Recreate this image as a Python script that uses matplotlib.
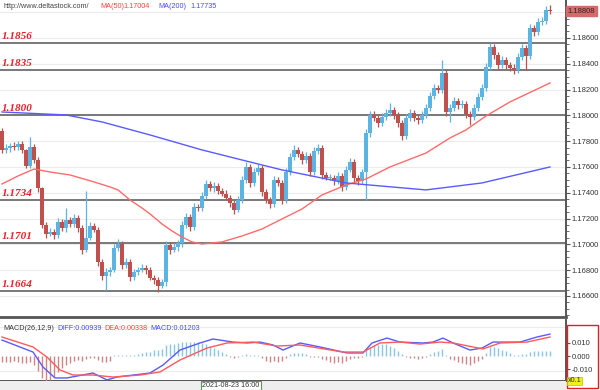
import numpy as np
import matplotlib
matplotlib.use("Agg")
import matplotlib.pyplot as plt
from matplotlib.patches import Rectangle

plt.rcParams["font.family"] = ["Liberation Sans", "DejaVu Sans"]

# ---- data (EUR/USD, hourly) ----
first_open = 1.17879
closes = [
    1.17732, 1.17747, 1.17763, 1.17755, 1.17778, 1.17732, 1.17608, 1.17755, 1.17654, 1.17437,
    1.17150, 1.17081, 1.17096, 1.17073, 1.17174, 1.17127, 1.17189, 1.17158, 1.17205, 1.17127,
    1.16957, 1.17050, 1.17143, 1.17112, 1.16864, 1.16755, 1.16786, 1.16802, 1.16972, 1.17003,
    1.16840, 1.16864, 1.16747, 1.16786, 1.16802, 1.16817, 1.16802, 1.16740, 1.16724, 1.16678,
    1.16709, 1.16995, 1.16957, 1.16980, 1.17011, 1.17150, 1.17212, 1.17135, 1.17290, 1.17282,
    1.17375, 1.17468, 1.17437, 1.17453, 1.17414, 1.17391, 1.17360, 1.17321, 1.17267, 1.17344,
    1.17499, 1.17600, 1.17476, 1.17561, 1.17592, 1.17406, 1.17344, 1.17313, 1.17499, 1.17476,
    1.17344, 1.17561, 1.17677, 1.17732, 1.17701, 1.17654, 1.17685, 1.17561, 1.17724, 1.17747,
    1.17538, 1.17515, 1.17518, 1.17491, 1.17530, 1.17445, 1.17577, 1.17639, 1.17515, 1.17491,
    1.17561, 1.17863, 1.18003, 1.17980, 1.17941, 1.17987, 1.18018, 1.18042, 1.18003, 1.17941,
    1.17840, 1.17980, 1.18018, 1.17980, 1.17964, 1.18003, 1.18057, 1.18150, 1.18212, 1.18197,
    1.18328, 1.18026, 1.18057, 1.18111, 1.18080, 1.18088, 1.18011, 1.17987, 1.18057, 1.18142,
    1.18212, 1.18375, 1.18530, 1.18468, 1.18390, 1.18429, 1.18390, 1.18367, 1.18352, 1.18452,
    1.18522, 1.18460, 1.18677, 1.18646, 1.18724, 1.18731, 1.18815, 1.18808,
]
# wick sizes in pips above / below the body
upper_wick = [
    2, 3, 2, 3, 2, 2, 1, 8, 2, 2, 1, 2, 3, 2, 3, 2, 9, 2, 3, 2,
    2, 36, 3, 2, 2, 2, 3, 2, 3, 4, 2, 3, 2, 2, 2, 3, 2, 2, 2, 2,
    2, 3, 2, 3, 2, 3, 3, 2, 3, 2, 3, 3, 2, 3, 2, 2, 3, 2, 2, 3,
    3, 4, 2, 3, 3, 2, 2, 2, 3, 2, 2, 3, 3, 4, 2, 2, 3, 2, 3, 3,
    2, 2, 3, 2, 3, 2, 3, 3, 2, 2, 2, 3, 3, 3, 2, 3, 3, 5, 2, 2,
    2, 3, 3, 2, 2, 3, 3, 3, 3, 2, 10, 2, 3, 3, 2, 3, 2, 2, 3, 3,
    3, 3, 3, 2, 2, 3, 2, 2, 3, 3, 3, 2, 3, 2, 3, 3, 3, 4,
]
lower_wick = [
    2, 2, 3, 2, 2, 2, 2, 2, 2, 3, 2, 3, 2, 3, 2, 2, 3, 2, 2, 3,
    3, 2, 2, 2, 3, 3, 11, 3, 2, 2, 3, 2, 3, 2, 2, 2, 3, 2, 3, 5,
    2, 3, 3, 2, 3, 3, 2, 3, 2, 2, 2, 2, 2, 3, 2, 2, 2, 3, 3, 2,
    2, 2, 3, 2, 2, 3, 2, 3, 2, 2, 3, 2, 2, 2, 2, 3, 2, 3, 2, 2,
    3, 2, 2, 3, 2, 3, 2, 2, 3, 3, 2, 22, 3, 2, 3, 2, 2, 2, 3, 3,
    3, 2, 2, 2, 3, 2, 2, 2, 2, 2, 2, 3, 8, 2, 3, 2, 3, 6, 2, 2,
    2, 2, 2, 3, 3, 2, 3, 2, 3, 2, 2, 11, 2, 3, 2, 2, 2, 2,
]

# moving averages (bar index, value)
ma50_idx = [0, 4, 8, 12, 17, 23, 27, 29, 32, 35, 37, 40, 42.5, 45, 47.5, 50, 55, 60, 65, 70, 75, 80,
            86, 91, 97, 106, 112, 116, 121, 127, 137]
ma50_val = [1.17468, 1.17530, 1.17584, 1.17561, 1.17538, 1.17484, 1.17445, 1.17422, 1.17344, 1.17282,
            1.17236, 1.17158, 1.17104, 1.17057, 1.17019, 1.17003, 1.17019, 1.17065, 1.17119, 1.17197,
            1.17274, 1.17383, 1.17460, 1.17507, 1.17600, 1.17708, 1.17825, 1.17887, 1.17995, 1.18104,
            1.18251]
ma200_idx = [0, 16, 25, 37, 50, 60, 70, 86, 106, 120, 137]
ma200_val = [1.18026, 1.18003, 1.17949, 1.17848, 1.17732, 1.17654, 1.17577, 1.17476, 1.17422, 1.17476, 1.17600]

levels = [1.1856, 1.1835, 1.1800, 1.1734, 1.1701, 1.1664]

# MACD panel
macd_hist = [
    -0.0045, -0.0045, -0.0045, -0.0038, -0.0045, -0.0053, -0.0053, -0.0045, -0.0068, -0.0113,
    -0.0165, -0.0188, -0.0180, -0.0158, -0.0120, -0.0090, -0.0068, -0.0053, -0.0038, -0.0030,
    -0.0038, -0.0023, -0.0015, -0.0015, -0.0030, -0.0045, -0.0045, -0.0038, 0.0008, 0.0008,
    0.0004, 0.0008, 0.0004, 0.0008, 0.0015, 0.0023, 0.0030, 0.0030, 0.0045, 0.0045,
    0.0053, 0.0083, 0.0090, 0.0090, 0.0098, 0.0105, 0.0105, 0.0105, 0.0105, 0.0105,
    0.0098, 0.0090, 0.0075, 0.0060, 0.0045, 0.0030, 0.0015, -0.0008, -0.0015, -0.0008,
    0.0008, 0.0015, 0.0008, 0.0008, 0.0004, -0.0015, -0.0038, -0.0045, -0.0038, -0.0045,
    -0.0038, -0.0015, 0.0015, 0.0023, 0.0023, 0.0023, 0.0015, -0.0008, -0.0008, -0.0008,
    -0.0023, -0.0030, -0.0045, -0.0053, -0.0045, -0.0053, -0.0038, -0.0023, -0.0015, -0.0015,
    -0.0008, 0.0045, 0.0068, 0.0083, 0.0083, 0.0090, 0.0090, 0.0075, 0.0060, 0.0038,
    0.0015, -0.0008, -0.0015, -0.0015, -0.0023, -0.0015, -0.0008, 0.0015, 0.0030, 0.0038,
    0.0053, 0.0008, -0.0023, -0.0030, -0.0045, -0.0053, -0.0060, -0.0068, -0.0053, -0.0038,
    -0.0023, 0.0023, 0.0068, 0.0068, 0.0060, 0.0045, 0.0038, 0.0023, 0.0008, 0.0008,
    0.0015, 0.0015, 0.0030, 0.0038, 0.0038, 0.0038, 0.0038, 0.0038,
]
diff_idx = [0, 7.75, 10.25, 13.25, 16.25, 22.75, 26.25, 28.75, 37, 40.25, 44.5, 49.5, 52.75, 57.75,
            61.25, 64.5, 67.75, 70.25, 74.5, 79.5, 86.25, 90.25, 92.5, 96.25, 99.5, 105.25, 107.75,
            110.25, 112.75, 117, 120, 122.75, 126.25, 129.5, 133.75, 137]
diff_val = [0.0120, 0.0030, -0.0083, -0.0165, -0.0165, -0.0128, -0.0180, -0.0158, -0.0128, -0.0068,
            0.0045, 0.0098, 0.0128, 0.0105, 0.0098, 0.0105, 0.0083, 0.0045, 0.0098, 0.0068,
            0.0023, 0.0023, 0.0098, 0.0135, 0.0105, 0.0098, 0.0105, 0.0135, 0.0098, 0.0045,
            0.0060, 0.0105, 0.0105, 0.0105, 0.0143, 0.0165]
dea_idx = [0, 7.75, 11.25, 14.5, 17.75, 22.75, 27.75, 34.5, 39.5, 44.5, 51.25, 56.25, 62.75, 68.75,
           74.5, 85.25, 90.25, 94.5, 99.5, 104.5, 109.5, 112.75, 120.25, 124.5, 131.25, 137]
dea_val = [0.0143, 0.0068, -0.0008, -0.0105, -0.0143, -0.0143, -0.0158, -0.0143, -0.0120, -0.0030,
           0.0060, 0.0098, 0.0105, 0.0075, 0.0083, 0.0030, 0.0030, 0.0098, 0.0105, 0.0090,
           0.0105, 0.0098, 0.0053, 0.0098, 0.0105, 0.0143]

BLUE = "#5bb4e2"
RED = "#c0504d"
W, H = 600, 390
FS = 5.2

fig = plt.figure(figsize=(6, 3.9), dpi=100)
fig.patch.set_facecolor("white")

# ---- main price panel ----
ax = fig.add_axes([0, 1 - 317 / H, 566 / W, 317 / H])
closes_a = np.array(closes)
opens_a = np.array([first_open] + closes[:-1])
x = np.arange(len(closes))
up = closes_a >= opens_a
cols = np.where(up, BLUE, RED)
highs = np.maximum(opens_a, closes_a) + np.array(upper_wick) * 0.0001
lows = np.minimum(opens_a, closes_a) - np.array(lower_wick) * 0.0001

ax.vlines(x, lows, highs, colors=cols, lw=0.9, zorder=3)
body = np.maximum(np.abs(closes_a - opens_a), 0.00005)
ax.bar(x, body, bottom=np.minimum(opens_a, closes_a), width=0.8, color=cols, zorder=4)

ax.plot(ma50_idx, ma50_val, color="#ff6b6b", lw=1.0, zorder=5)
ax.plot(ma200_idx, ma200_val, color="#5a5aff", lw=1.0, zorder=5)

for lv in levels:
    ax.axhline(lv, color="#6e6e6e", lw=1.3, zorder=2)
    ax.annotate(f"{lv:.4f}", xy=(0, lv), xycoords=("axes fraction", "data"),
                xytext=(1.5, 1.5), textcoords="offset points", ha="left", va="bottom",
                color="#e8202a", fontsize=8, fontweight="bold", fontstyle="italic",
                family="Liberation Serif")

ax.set_xlim(-0.5, 141)
ax.set_ylim(1.16437, 1.18894)
major = np.arange(1.166, 1.1870, 0.002)
ax.set_yticks(major)
ax.set_yticklabels([f"{v:.5f}" for v in major])
ax.set_yticks(np.arange(1.1645, 1.1890, 0.0005), minor=True)
ax.yaxis.tick_right()
ax.tick_params(axis="y", which="major", length=3, color="#555555", labelsize=FS + 0.3,
               labelcolor="#333333", pad=1)
ax.tick_params(axis="y", which="minor", length=2, color="#555555")
ax.set_xticks([])
ax.grid(axis="y", which="major", color="#ececec", lw=0.8, zorder=0)
ax.axhline(1.188, color="#ececec", lw=0.8, zorder=0)
for s in ("left", "top"):
    ax.spines[s].set_visible(False)
ax.spines["right"].set_color("#555555")
ax.spines["right"].set_linewidth(1.4)
ax.spines["bottom"].set_color("#555555")
ax.spines["bottom"].set_linewidth(2)

ax.text(1.003, closes[-1], f"{closes[-1]:.5f}", transform=ax.get_yaxis_transform(),
        ha="left", va="center", fontsize=FS + 0.3, color="#3a2020", clip_on=False, zorder=10,
        bbox=dict(boxstyle="square,pad=0.2", facecolor="#d46a6a", edgecolor="#d46a6a"))

# header
fig.text(3 / W, 1 - 6 / H, "http://www.deltastock.com/", fontsize=FS, color="#444444", va="center")
fig.text(100 / W, 1 - 6 / H, "MA(50)", fontsize=FS, color="#ff4040", va="center")
fig.text(123 / W, 1 - 6 / H, "1.17004", fontsize=FS, color="#ff4040", va="center")
fig.text(158 / W, 1 - 6 / H, "MA(200)", fontsize=FS, color="#4a4aff", va="center")
fig.text(190 / W, 1 - 6 / H, "1.17735", fontsize=FS, color="#4a4aff", va="center")

# ---- MACD panel ----
ax2 = fig.add_axes([0, 9 / H, 566 / W, 61 / H])
hist = np.array(macd_hist)
hcols = np.where(hist >= 0, "#88c6e4", "#cf8585")
ax2.vlines(x, 0, hist, colors=hcols, lw=1.0, zorder=3)
ax2.plot(diff_idx, diff_val, color="#5a5aff", lw=1.0, zorder=4)
ax2.plot(dea_idx, dea_val, color="#ff5a5a", lw=1.0, zorder=4)
ax2.set_xlim(-0.5, 141)
ax2.set_ylim(-0.0188, 0.0271)
ax2.axhline(0.0218, color="#ececec", lw=0.8, zorder=0)
ax2.axhline(-0.0113, color="#ececec", lw=0.8, zorder=0)
ax2.set_yticks([0.01, 0.0, -0.01])
ax2.set_yticklabels(["0.010", "0.000", "-0.010"])
ax2.yaxis.tick_right()
ax2.tick_params(axis="y", length=3, color="#555555", labelsize=FS + 0.3, labelcolor="#333333", pad=1)
ax2.set_xticks([])
for s in ("left", "top"):
    ax2.spines[s].set_visible(False)
ax2.spines["right"].set_color("#555555")
ax2.spines["right"].set_linewidth(1.4)
ax2.spines["bottom"].set_color("#555555")
ax2.spines["bottom"].set_linewidth(1.4)

fig.text(3 / W, 1 - 329 / H, "MACD(26,12,9)", fontsize=FS, color="#333333", va="center")
fig.text(57 / W, 1 - 329 / H, "DIFF:0.00939", fontsize=FS, color="#4a4aff", va="center")
fig.text(104 / W, 1 - 329 / H, "DEA:0.00338", fontsize=FS, color="#ff4040", va="center")
fig.text(150 / W, 1 - 329 / H, "MACD:0.01203", fontsize=FS, color="#4a4aff", va="center")

# time strip
ax3 = fig.add_axes([0, 0, 566 / W, 9 / H])
ax3.set_facecolor("#eeeeee")
ax3.set_xticks([])
ax3.set_yticks([])
for s in ax3.spines.values():
    s.set_visible(False)
fig.text(231 / W, 1 - 385.5 / H, "2021-08-23 16:00", fontsize=FS, color="#333333",
         ha="center", va="center",
         bbox=dict(boxstyle="square,pad=0.15", facecolor="white", edgecolor="#5a9a5a", lw=0.8))

# right-side decorations of MACD scale
fig.patches.append(Rectangle((567 / W, 2 / H), 31 / W, 63 / H, transform=fig.transFigure,
                             fill=False, edgecolor="#e02020", lw=1.0))
fig.text(568 / W, 1 - 381 / H, "x0.1", fontsize=FS, color="#333333", va="center",
         bbox=dict(boxstyle="square,pad=0.1", facecolor="#f0f020", edgecolor="#c0c000", lw=0.5))

fig.savefig("out.png", dpi=100)
